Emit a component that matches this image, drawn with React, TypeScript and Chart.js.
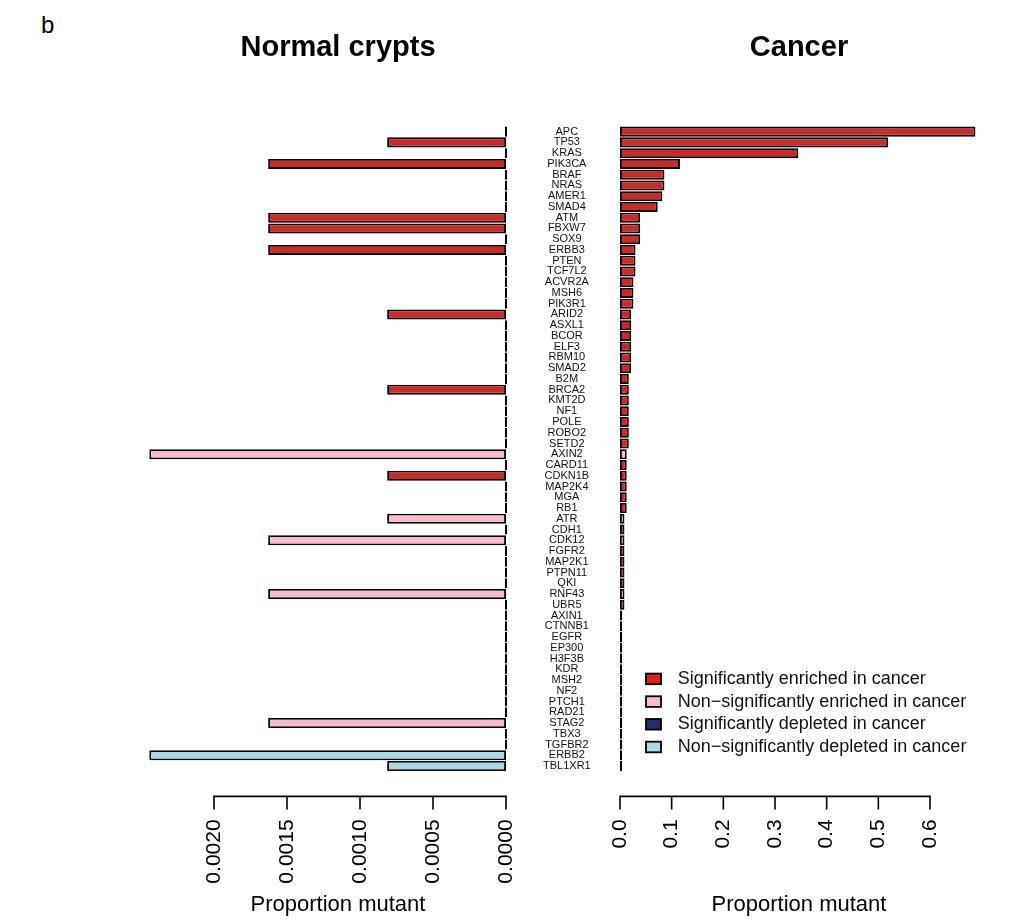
import { useEffect, useRef } from "react";
import { Chart, registerables } from "chart.js";

Chart.register(...registerables);

const FONT = "'Liberation Sans', Arial, Helvetica, sans-serif";

// Genes, ordered by proportion mutant in cancer
const genes = [
  "APC", "TP53", "KRAS", "PIK3CA", "BRAF", "NRAS", "AMER1", "SMAD4", "ATM", "FBXW7",
  "SOX9", "ERBB3", "PTEN", "TCF7L2", "ACVR2A", "MSH6", "PIK3R1", "ARID2", "ASXL1", "BCOR",
  "ELF3", "RBM10", "SMAD2", "B2M", "BRCA2", "KMT2D", "NF1", "POLE", "ROBO2", "SETD2",
  "AXIN2", "CARD11", "CDKN1B", "MAP2K4", "MGA", "RB1", "ATR", "CDH1", "CDK12", "FGFR2",
  "MAP2K1", "PTPN11", "QKI", "RNF43", "UBR5", "AXIN1", "CTNNB1", "EGFR", "EP300", "H3F3B",
  "KDR", "MSH2", "NF2", "PTCH1", "RAD21", "STAG2", "TBX3", "TGFBR2", "ERBB2", "TBL1XR1",
];

// Proportion of normal crypts carrying a mutation in each gene
const normalCrypts = [
  0, 0.000814, 0, 0.001629, 0, 0, 0, 0, 0.001629, 0.001629,
  0, 0.001629, 0, 0, 0, 0, 0, 0.000814, 0, 0,
  0, 0, 0, 0, 0.000814, 0, 0, 0, 0, 0,
  0.002443, 0, 0.000814, 0, 0, 0, 0.000814, 0, 0.001629, 0,
  0, 0, 0, 0.001629, 0, 0, 0, 0, 0, 0,
  0, 0, 0, 0, 0, 0.001629, 0, 0, 0.002443, 0.000814,
];

// Proportion of cancers carrying a mutation in each gene
const cancer = [
  0.688, 0.519, 0.345, 0.116, 0.086, 0.086, 0.082, 0.073, 0.039, 0.039,
  0.039, 0.030, 0.030, 0.030, 0.026, 0.026, 0.026, 0.0215, 0.0215, 0.0215,
  0.0215, 0.0215, 0.0215, 0.017, 0.017, 0.017, 0.017, 0.017, 0.017, 0.017,
  0.013, 0.013, 0.013, 0.013, 0.013, 0.013, 0.0086, 0.0086, 0.0086, 0.0086,
  0.0086, 0.0086, 0.0086, 0.0086, 0.0086, 0.0043, 0.0043, 0.0043, 0.0043, 0.0043,
  0.0043, 0.0043, 0.0043, 0.0043, 0.0043, 0.0043, 0.0043, 0.0043, 0, 0,
];

// SE: significantly enriched, NE: non-significantly enriched,
// SD: significantly depleted, ND: non-significantly depleted (in cancer)
const status = [
  "SE", "SE", "SE", "SE", "SE", "SE", "SE", "SE", "SE", "SE",
  "SE", "SE", "SE", "SE", "SE", "SE", "SE", "SE", "SE", "SE",
  "SE", "SE", "SE", "SE", "SE", "SE", "SE", "SE", "SE", "SE",
  "NE", "SE", "SE", "SE", "SE", "SE", "NE", "SE", "NE", "SE",
  "SE", "SE", "SE", "NE", "SE", "SE", "SE", "SE", "SE", "SE",
  "SE", "SE", "SE", "SE", "SE", "NE", "SE", "SE", "ND", "ND",
];

const normalTicks = [0, 0.0005, 0.001, 0.0015, 0.002];
const cancerTicks = [0, 0.1, 0.2, 0.3, 0.4, 0.5, 0.6];

const legendKeys = ["SE", "NE", "SD", "ND"];
const legendLabels = [
  "Significantly enriched in cancer",
  "Non\u2212significantly enriched in cancer",
  "Significantly depleted in cancer",
  "Non\u2212significantly depleted in cancer",
];

const barColors: Record<string, string> = {
  SE: "#CC2A2A",
  NE: "#F6BDC9",
  SD: "#232E70",
  ND: "#ADD8E6",
};
const legendColors: Record<string, string> = {
  SE: "#E0201F",
  NE: "#F6BDC9",
  SD: "#232E70",
  ND: "#ADD8E6",
};

// R-style axis: a line running only between the outer ticks, set below the plot
const baseAxisPlugin = {
  id: "baseAxis",
  afterDraw(chart: any) {
    const xs = chart.scales.x;
    const { ctx, chartArea } = chart;
    const y0 = chartArea.bottom + 25;
    const px = xs.ticks.map((t: any) => xs.getPixelForValue(t.value));
    ctx.save();
    ctx.strokeStyle = "#000";
    ctx.lineWidth = 1.6;
    ctx.beginPath();
    ctx.moveTo(Math.min(...px) - 0.8, y0);
    ctx.lineTo(Math.max(...px) + 0.8, y0);
    px.forEach((p: number) => {
      ctx.moveTo(p, y0);
      ctx.lineTo(p, y0 + 13);
    });
    ctx.stroke();
    ctx.restore();
  },
};

// Legend drawn inside the lower part of the cancer panel
const statusLegendPlugin = {
  id: "statusLegend",
  afterDraw(chart: any) {
    const { ctx, chartArea } = chart;
    ctx.save();
    ctx.font = `18px ${FONT}`;
    ctx.textBaseline = "middle";
    ctx.textAlign = "left";
    const n = legendKeys.length;
    legendKeys.forEach((key, i) => {
      const cy = chartArea.bottom - 24.4 - (n - 1 - i) * 22.7;
      const bx = chartArea.left + 26;
      ctx.fillStyle = legendColors[key];
      ctx.fillRect(bx, cy - 5.3, 15, 10.6);
      ctx.lineWidth = 1.8;
      ctx.strokeStyle = "#000";
      ctx.strokeRect(bx, cy - 5.3, 15, 10.6);
      ctx.fillStyle = "#111";
      ctx.fillText(legendLabels[i], chartArea.left + 57.7, cy);
    });
    ctx.restore();
  },
};

function panelOptions(
  title: string,
  ticks: number[],
  max: number,
  reverse: boolean,
  decimals: number,
  padding: { left: number; right: number },
  showGenes: boolean
): any {
  return {
    indexAxis: "y",
    animation: false,
    responsive: false,
    layout: { padding: { left: padding.left, right: padding.right, top: 0, bottom: 0 } },
    plugins: {
      legend: { display: false },
      tooltip: { enabled: false },
      title: {
        display: true,
        text: title,
        fullSize: false,
        color: "#000",
        font: { family: FONT, size: 29, weight: "bold" },
        padding: { top: 30.6, bottom: 60.9 },
      },
    },
    scales: {
      x: {
        type: "linear",
        min: 0,
        max,
        reverse,
        afterBuildTicks: (scale: any) => {
          scale.ticks = ticks.map((value) => ({ value }));
        },
        afterFit: (scale: any) => {
          scale.height = 151.6;
        },
        grid: { display: false, drawTicks: false },
        border: { display: false },
        ticks: {
          autoSkip: false,
          minRotation: 90,
          maxRotation: 90,
          padding: 48,
          color: "#000",
          font: { family: FONT, size: 21 },
          callback: (v: any) => Number(v).toFixed(decimals),
        },
        title: {
          display: true,
          text: "Proportion mutant",
          color: "#000",
          font: { family: FONT, size: 22 },
          padding: { top: 0, bottom: 5 },
        },
      },
      y: {
        type: "category",
        display: showGenes,
        position: "right",
        offset: true,
        afterFit: (scale: any) => {
          scale.width = showGenes ? 176 : 0;
        },
        grid: { display: false, drawTicks: false },
        border: { display: false },
        ticks: {
          autoSkip: false,
          crossAlign: "center",
          padding: 37,
          color: "#111",
          font: { family: FONT, size: 11 },
        },
      },
    },
  };
}

function dataset(values: number[]) {
  return {
    data: values,
    backgroundColor: status.map((s) => barColors[s]),
    borderColor: "#000",
    borderWidth: 1.9,
    borderSkipped: false,
    barPercentage: 0.94,
    categoryPercentage: 1,
    minBarLength: 2,
    clip: false,
  };
}

export default function App() {
  const leftRef = useRef<HTMLCanvasElement>(null);
  const rightRef = useRef<HTMLCanvasElement>(null);

  useEffect(() => {
    const left = new Chart(leftRef.current!, {
      type: "bar",
      data: { labels: genes, datasets: [dataset(normalCrypts)] as any },
      options: panelOptions("Normal crypts", normalTicks, 0.0023014, true, 4, { left: 170, right: 0 }, true),
      plugins: [baseAxisPlugin],
    } as any);
    const right = new Chart(rightRef.current!, {
      type: "bar",
      data: { labels: genes, datasets: [dataset(cancer)] as any },
      options: panelOptions("Cancer", cancerTicks, 0.6929, false, 1, { left: 60, right: 31 }, false),
      plugins: [baseAxisPlugin, statusLegendPlugin],
    } as any);
    return () => {
      left.destroy();
      right.destroy();
    };
  }, []);

  return (
    <div
      style={{
        position: "absolute",
        left: 0,
        top: 0,
        width: 1009,
        height: 923,
        background: "#fff",
        fontFamily: FONT,
        overflow: "hidden",
      }}
    >
      <div style={{ position: "absolute", left: 41, top: 11, fontSize: 24, color: "#000" }}>b</div>
      <canvas ref={leftRef} width={682} height={923} style={{ position: "absolute", left: 0, top: 0 }} />
      <canvas ref={rightRef} width={449} height={923} style={{ position: "absolute", left: 560, top: 0 }} />
    </div>
  );
}
